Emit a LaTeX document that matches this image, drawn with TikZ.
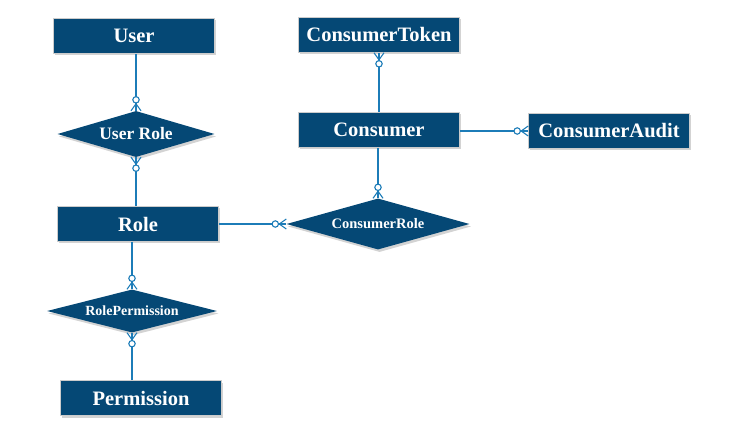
\documentclass[tikz,border=0pt]{standalone}
\usepackage{fontspec}
\setmainfont{Liberation Serif}
\usetikzlibrary{shapes.geometric,shadows}
\definecolor{erfill}{RGB}{5,72,117}
\definecolor{erline}{RGB}{28,124,184}
\begin{document}
\begin{tikzpicture}[x=1pt,y=1pt,
  entity/.style={rectangle, fill=erfill, draw=gray!40, line width=0.6pt,
    minimum width=161pt, minimum height=35pt, inner sep=0pt,
    text=white, font=\bfseries\fontsize{20.5}{24}\selectfont,
    drop shadow={shadow xshift=1.5pt, shadow yshift=-2pt, opacity=0.35}},
  relation/.style={diamond, fill=erfill, inner sep=0pt,
    text=white, font=\bfseries\fontsize{14}{16}\selectfont,
    drop shadow={shadow xshift=1.5pt, shadow yshift=-2.5pt, opacity=0.35}},
  conn/.style={draw=erline, line width=1.1pt},
  crow/.pic={
    \draw[erline, line width=1.1pt] (-7,0) -- (0,5) (-7,0) -- (0,-5);
    \draw[erline, line width=1.1pt, fill=white] (-11,0) circle (3.2);
  }]
\useasboundingbox (0,0) rectangle (729,-441);
% entities
\node[entity] (User) at (134,-36) {User};
\node[entity] (Role) at (138,-224) {Role};
\node[entity] (Perm) at (141,-398) {Permission};
\node[entity] (CT) at (379,-35) {ConsumerToken};
\node[entity] (Cons) at (379,-130) {Consumer};
\node[entity] (CA) at (609,-131) {ConsumerAudit};
% relations
\node[relation, minimum width=157pt, minimum height=46pt, aspect=3.4] (UR) at (136,-134) {\fontsize{17.5}{20}\selectfont User Role};
\node[relation, minimum width=170pt, minimum height=43pt, aspect=4] (RP) at (132,-311) {\fontsize{14}{16}\selectfont RolePermission};
\node[relation, minimum width=183pt, minimum height=51pt, aspect=3.6] (CR) at (378,-224) {\fontsize{14.5}{16}\selectfont ConsumerRole};
% connectors
\draw[conn] (UR.north |- User.south) -- (UR.north) pic[pos=1, sloped]{crow};
\draw[conn] (UR.south |- Role.north) -- (UR.south) pic[pos=1, sloped]{crow};
\draw[conn] (RP.north |- Role.south) -- (RP.north) pic[pos=1, sloped]{crow};
\draw[conn] (RP.south |- Perm.north) -- (RP.south) pic[pos=1, sloped]{crow};
\draw[conn] (CT.south |- Cons.north) -- (CT.south) pic[pos=1, sloped]{crow};
\draw[conn] (Cons.east |- CA.west) -- (CA.west) pic[pos=1, sloped]{crow};
\draw[conn] (CR.north |- Cons.south) -- (CR.north) pic[pos=1, sloped]{crow};
\draw[conn] (Role.east |- CR.west) -- (CR.west) pic[pos=1, sloped]{crow};
\end{tikzpicture}
\end{document}
